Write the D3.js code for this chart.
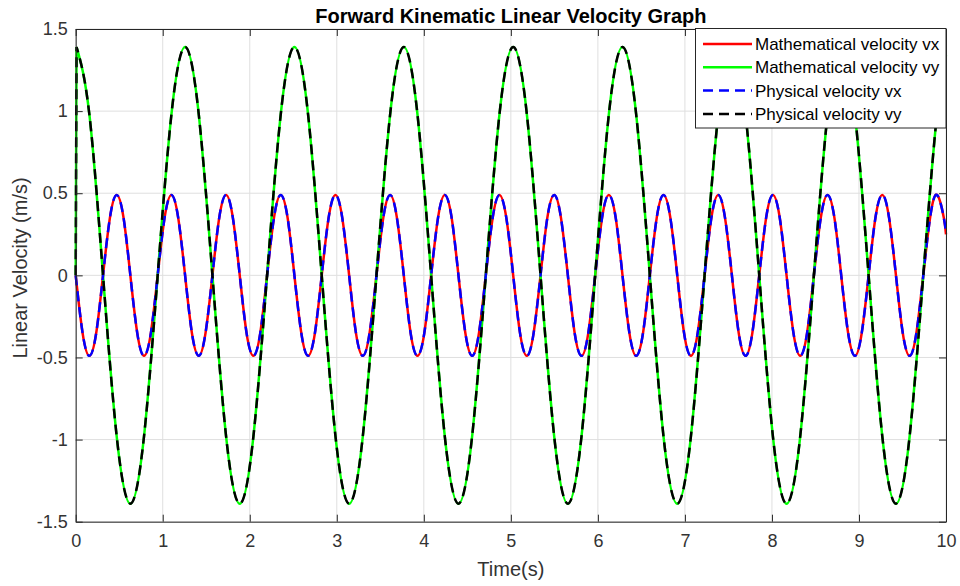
<!DOCTYPE html>
<html>
<head>
<meta charset="utf-8">
<script src="https://cdn.jsdelivr.net/npm/d3@7"></script>
<style>
  body { margin: 0; background: #fff; }
  text { font-family: "Liberation Sans", Arial, sans-serif; }
</style>
</head>
<body>
<div id="chart"></div>
<script>
// values: vx extrema / zero crossings and the points half way between
const vxTime = [0, 0.079, 0.157, 0.236, 0.314, 0.393, 0.471, 0.550, 0.628, 0.707, 0.785, 0.864,
  0.942, 1.021, 1.100, 1.178, 1.257, 1.335, 1.414, 1.492, 1.571, 1.649, 1.728, 1.806,
  1.885, 1.963, 2.042, 2.121, 2.199, 2.278, 2.356, 2.435, 2.513, 2.592, 2.670, 2.749,
  2.827, 2.906, 2.985, 3.063, 3.142, 3.220, 3.299, 3.377, 3.456, 3.534, 3.613, 3.691,
  3.770, 3.848, 3.927, 4.006, 4.084, 4.163, 4.241, 4.320, 4.398, 4.477, 4.555, 4.634,
  4.712, 4.791, 4.869, 4.948, 5.027, 5.105, 5.184, 5.262, 5.341, 5.419, 5.498, 5.576,
  5.655, 5.733, 5.812, 5.890, 5.969, 6.048, 6.126, 6.205, 6.283, 6.362, 6.440, 6.519,
  6.597, 6.676, 6.754, 6.833, 6.912, 6.990, 7.069, 7.147, 7.226, 7.304, 7.383, 7.461,
  7.540, 7.618, 7.697, 7.775, 7.854, 7.933, 8.011, 8.090, 8.168, 8.247, 8.325, 8.404,
  8.482, 8.561, 8.639, 8.718, 8.796, 8.875, 8.954, 9.032, 9.111, 9.189, 9.268, 9.346,
  9.425, 9.503, 9.582, 9.660, 9.739, 9.817, 9.896, 9.975, 10];
const vxValue = [0, -0.35, -0.49, -0.35, 0, 0.35, 0.49, 0.35,
  0, -0.35, -0.49, -0.35, 0, 0.35, 0.49, 0.35,
  0, -0.35, -0.49, -0.35, 0, 0.35, 0.49, 0.35,
  0, -0.35, -0.49, -0.35, 0, 0.35, 0.49, 0.35,
  0, -0.35, -0.49, -0.35, 0, 0.35, 0.49, 0.35,
  0, -0.35, -0.49, -0.35, 0, 0.35, 0.49, 0.35,
  0, -0.35, -0.49, -0.35, 0, 0.35, 0.49, 0.35,
  0, -0.35, -0.49, -0.35, 0, 0.35, 0.49, 0.35,
  0, -0.35, -0.49, -0.35, 0, 0.35, 0.49, 0.35,
  0, -0.35, -0.49, -0.35, 0, 0.35, 0.49, 0.35,
  0, -0.35, -0.49, -0.35, 0, 0.35, 0.49, 0.35,
  0, -0.35, -0.49, -0.35, 0, 0.35, 0.49, 0.35,
  0, -0.35, -0.49, -0.35, 0, 0.35, 0.49, 0.35,
  0, -0.35, -0.49, -0.35, 0, 0.35, 0.49, 0.35,
  0, -0.35, -0.49, -0.35, 0, 0.35, 0.49, 0.35,
  0, -0.35, -0.49, -0.35, 0, 0.35, 0.49, 0.35, 0.25];

// vy: starts at 0 then jumps to the first peak
const vyTime = [0, 0.01, 0.157, 0.314, 0.471, 0.628, 0.785, 0.942, 1.100, 1.257, 1.414, 1.571,
  1.728, 1.885, 2.042, 2.199, 2.356, 2.513, 2.670, 2.827, 2.985, 3.142, 3.299, 3.456,
  3.613, 3.770, 3.927, 4.084, 4.241, 4.398, 4.555, 4.712, 4.869, 5.027, 5.184, 5.341,
  5.498, 5.655, 5.812, 5.969, 6.126, 6.283, 6.440, 6.597, 6.754, 6.912, 7.069, 7.226,
  7.383, 7.540, 7.697, 7.854, 8.011, 8.168, 8.325, 8.482, 8.639, 8.796, 8.954, 9.111,
  9.268, 9.425, 9.582, 9.739, 9.896, 10];
const vyValue = [0, 1.39, 0.98, 0, -0.98, -1.39, -0.98, 0, 0.98,
  1.39, 0.98, 0, -0.98, -1.39, -0.98, 0, 0.98,
  1.39, 0.98, 0, -0.98, -1.39, -0.98, 0, 0.98,
  1.39, 0.98, 0, -0.98, -1.39, -0.98, 0, 0.98,
  1.39, 0.98, 0, -0.98, -1.39, -0.98, 0, 0.98,
  1.39, 0.98, 0, -0.98, -1.39, -0.98, 0, 0.98,
  1.39, 0.98, 0, -0.98, -1.39, -0.98, 0, 0.98,
  1.39, 0.98, 0, -0.98, -1.39, -0.98, 0, 0.98, 1.34];

const xTicks = [0, 1, 2, 3, 4, 5, 6, 7, 8, 9, 10];
const yTicks = [-1.5, -1, -0.5, 0, 0.5, 1, 1.5];

const seriesNames = ["Mathematical velocity vx", "Mathematical velocity vy",
  "Physical velocity vx", "Physical velocity vy"];
const seriesColors = ["#ff0000", "#00ff00", "#0000ff", "#000000"];
const seriesDash = [null, null, "10,6", "10,6"];

const width = 960, height = 586;
const plotL = 75.7, plotR = 946, plotT = 29, plotB = 521.7;
const axisColor = "#262626";

const svg = d3.select("#chart").append("svg")
  .attr("width", width)
  .attr("height", height);

const x = d3.scaleLinear().domain([0, 10]).range([plotL, plotR]);
const y = d3.scaleLinear().domain([-1.5, 1.5]).range([plotB, plotT]);

// grid
svg.append("g").selectAll("line")
  .data(xTicks).join("line")
  .attr("x1", d => x(d)).attr("x2", d => x(d))
  .attr("y1", plotT).attr("y2", plotB)
  .attr("stroke", "#dfdfdf").attr("stroke-width", 1);
svg.append("g").selectAll("line")
  .data(yTicks).join("line")
  .attr("x1", plotL).attr("x2", plotR)
  .attr("y1", d => y(d)).attr("y2", d => y(d))
  .attr("stroke", "#dfdfdf").attr("stroke-width", 1);

// curves
const vxPts = vxTime.map((t, i) => [t, vxValue[i]]);
const vyPts = vyTime.map((t, i) => [t, vyValue[i]]);

const smooth = d3.line().x(d => x(d[0])).y(d => y(d[1])).curve(d3.curveNatural);
const straight = d3.line().x(d => x(d[0])).y(d => y(d[1]));

function vyPath() {
  // the jump at t=0 is a straight piece, the rest is smooth
  return straight(vyPts.slice(0, 2)) + smooth(vyPts.slice(1)).replace(/^M/, "L");
}

const paths = [smooth(vxPts), vyPath(), smooth(vxPts), vyPath()];

svg.append("g").selectAll("path")
  .data(paths).join("path")
  .attr("d", d => d)
  .attr("fill", "none")
  .attr("stroke", (d, i) => seriesColors[i])
  .attr("stroke-width", 2.5)
  .attr("stroke-dasharray", (d, i) => seriesDash[i]);

// axes box with inward ticks on all sides
const axesG = svg.append("g");
axesG.append("g")
  .attr("transform", `translate(0,${plotB})`)
  .call(d3.axisBottom(x).tickValues(xTicks).tickSizeInner(-7).tickSizeOuter(0).tickPadding(13));
axesG.append("g")
  .attr("transform", `translate(0,${plotT})`)
  .call(d3.axisTop(x).tickValues(xTicks).tickSizeInner(-7).tickSizeOuter(0).tickFormat(""));
axesG.append("g")
  .attr("transform", `translate(${plotL},0)`)
  .call(d3.axisLeft(y).tickValues(yTicks).tickSizeInner(-7).tickSizeOuter(0).tickPadding(8)
    .tickFormat(d => String(d)));
axesG.append("g")
  .attr("transform", `translate(${plotR},0)`)
  .call(d3.axisRight(y).tickValues(yTicks).tickSizeInner(-7).tickSizeOuter(0).tickFormat(""));

axesG.selectAll(".domain").attr("stroke", axisColor);
axesG.selectAll(".tick line").attr("stroke", axisColor);
axesG.selectAll(".tick text")
  .attr("fill", "#333")
  .style("font-size", "18px")
  .style("font-family", "'Liberation Sans', Arial, sans-serif");

// title and labels
svg.append("text")
  .attr("x", (plotL + plotR) / 2).attr("y", 22.5)
  .attr("text-anchor", "middle")
  .style("font-size", "20px").style("font-weight", "bold")
  .attr("fill", "#000")
  .text("Forward Kinematic Linear Velocity Graph");

svg.append("text")
  .attr("x", (plotL + plotR) / 2).attr("y", 576)
  .attr("text-anchor", "middle")
  .style("font-size", "20px")
  .attr("fill", "#333")
  .text("Time(s)");

svg.append("text")
  .attr("transform", "translate(27,268) rotate(-90)")
  .attr("text-anchor", "middle")
  .style("font-size", "20px")
  .attr("fill", "#333")
  .text("Linear Velocity (m/s)");

// legend
const lg = svg.append("g");
lg.append("rect")
  .attr("x", 695.5).attr("y", 28.5)
  .attr("width", 250.5).attr("height", 99.5)
  .attr("fill", "#fff")
  .attr("stroke", axisColor).attr("stroke-width", 1);

const rows = lg.selectAll("g")
  .data(seriesNames).join("g")
  .attr("transform", (d, i) => `translate(0,${44 + i * 23.3})`);
rows.append("line")
  .attr("x1", 703).attr("x2", 752)
  .attr("stroke", (d, i) => seriesColors[i])
  .attr("stroke-width", 2.5)
  .attr("stroke-dasharray", (d, i) => seriesDash[i]);
rows.append("text")
  .attr("x", 755).attr("dy", "0.35em")
  .style("font-size", "17px")
  .attr("fill", "#000")
  .text(d => d);
</script>
</body>
</html>
